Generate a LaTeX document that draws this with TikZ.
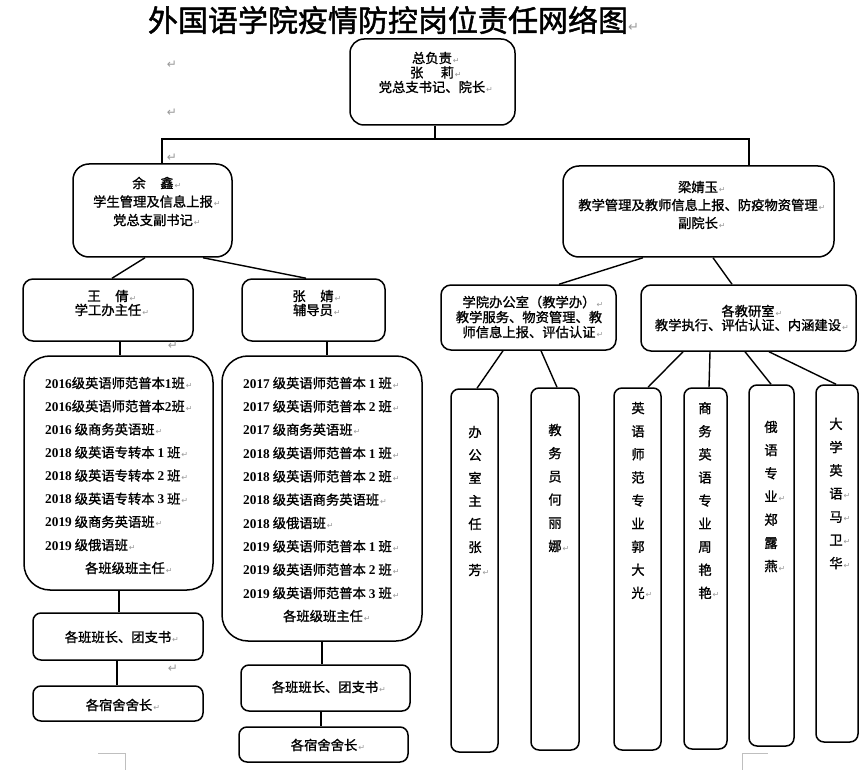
\documentclass[tikz,border=0pt]{standalone}
\usepackage{fontspec}
\setmainfont{Noto Sans CJK SC}[FakeBold=1.2]
\newfontfamily\titlefont{Noto Sans CJK SC}[FakeBold=1.5]
\newfontfamily\arrowfont{DejaVu Sans}
\newfontfamily\numfont{Liberation Serif}
\usetikzlibrary{calc}
\newcommand\rt{\rlap{\kern1pt\textcolor{black!40}{\arrowfont\fontsize{8}{8}\selectfont ↵}}}
\newcommand\nm[1]{{\numfont\bfseries #1}}
\newcommand\wsp{\hspace{1.1em}}
\begin{document}
\begin{tikzpicture}[x=1pt,y=-1pt,
  box/.style={draw, line width=1.5pt, rounded corners=#1, inner sep=0pt},
  box/.default=9pt,
  conn/.style={line width=1.4pt},
  txt/.style={inner sep=0pt, align=center, font=\fontsize{13.3}{#1}\selectfont},
  txt/.default=15pt,
  ltxt/.style={inner sep=0pt, align=left, anchor=west, font=\fontsize{13.3}{#1}\selectfont},
  stray/.style={inner sep=0pt, text=black!40, font=\arrowfont\fontsize{12}{12}\selectfont},
  cornermark/.style={draw=black!25, line width=0.8pt}
]
\useasboundingbox (0,0) rectangle (865,770);
\fill[white] (0,0) rectangle (865,770);

% title
\node[inner sep=0pt] (title) at (388,20) {\titlefont\fontsize{30}{30}\selectfont 外国语学院疫情防控岗位责任网络图\rlap{\textcolor{black!40}{\arrowfont\fontsize{13}{13}\selectfont ↵}}};

% boxes
\node[box=14pt, minimum width=165pt, minimum height=86pt] (top) at (432.5,82) {};
\node[box=16pt, minimum width=159pt, minimum height=93pt] (yu) at (152.5,210.5) {};
\node[box=16pt, minimum width=271pt, minimum height=91pt] (lj) at (698.5,211.5) {};
\node[box=10pt, minimum width=170pt, minimum height=62pt] (wq) at (108,310) {};
\node[box=10pt, minimum width=143pt, minimum height=62pt] (zj) at (313.5,310) {};
\node[box=10pt, minimum width=175pt, minimum height=65pt] (office) at (528.5,317.5) {};
\node[box=10pt, minimum width=215pt, minimum height=66pt] (dept) at (748.5,318) {};
\node[box=26pt, minimum width=189pt, minimum height=234pt] (clL) at (118.5,473) {};
\node[box=26pt, minimum width=200pt, minimum height=285pt] (clR) at (322,498.5) {};
\node[box=8pt, minimum width=170pt, minimum height=47pt] (blL) at (118,636.5) {};
\node[box=8pt, minimum width=170pt, minimum height=35pt] (dlL) at (118,703.5) {};
\node[box=8pt, minimum width=169pt, minimum height=46pt] (blR) at (325.5,688) {};
\node[box=8pt, minimum width=169pt, minimum height=35pt] (dlR) at (323.5,744.5) {};
\node[box=8pt, minimum width=47pt, minimum height=363pt] (v1) at (474.5,570.5) {};
\node[box=8pt, minimum width=48pt, minimum height=362pt] (v2) at (555,569) {};
\node[box=8pt, minimum width=47pt, minimum height=362pt] (v3) at (637.5,569) {};
\node[box=8pt, minimum width=43pt, minimum height=361pt] (v4) at (705.5,568.5) {};
\node[box=8pt, minimum width=45pt, minimum height=361pt] (v5) at (771.5,565.5) {};
\node[box=8pt, minimum width=42pt, minimum height=357pt] (v6) at (837,563.5) {};

% texts
\node[txt=14.5pt] (topt) at (432,72.5) {总负责\rt\\张\hspace{1.3em}莉\rt\\党总支书记、院长\rt};
\node[txt=18.5pt] (yut) at (153,201.5) {余\wsp 鑫\rt\\学生管理及信息上报\rt\\党总支副书记\rt};
\node[txt=18pt] (ljt) at (698,205) {梁婧玉\rt\\教学管理及教师信息上报、防疫物资管理\rt\\副院长\rt};
\node[txt=14pt] (wqt) at (108,303) {王\wsp 倩\rt\\学工办主任\rt};
\node[txt=14pt] (zjt) at (313,303) {张\wsp 婧\rt\\辅导员\rt};
\node[txt=15pt] (offt) at (529,317) {学院办公室（教学办）\rt\\教学服务、物资管理、教\\师信息上报、评估认证\rt};
\node[txt=14pt] (deptt) at (748,318) {各教研室\rt\\教学执行、评估认证、内涵建设\rt};

\node[ltxt=23.14pt] (clLt) at (45,464) {\nm{2016}级英语师范普本\nm{1}班\rt\\
\nm{2016}级英语师范普本\nm{2}班\rt\\
\nm{2016} 级商务英语班\rt\\
\nm{2018} 级英语专转本 \nm{1} 班\rt\\
\nm{2018} 级英语专转本 \nm{2} 班\rt\\
\nm{2018} 级英语专转本 \nm{3} 班\rt\\
\nm{2019} 级商务英语班\rt\\
\nm{2019} 级俄语班\rt};
\node[txt] (clLh) at (125,568) {各班级班主任\rt};
\node[ltxt=23.33pt] (clRt) at (243,488) {\nm{2017} 级英语师范普本 \nm{1} 班\rt\\
\nm{2017} 级英语师范普本 \nm{2} 班\rt\\
\nm{2017} 级商务英语班\rt\\
\nm{2018} 级英语师范普本 \nm{1} 班\rt\\
\nm{2018} 级英语师范普本 \nm{2} 班\rt\\
\nm{2018} 级英语商务英语班\rt\\
\nm{2018} 级俄语班\rt\\
\nm{2019} 级英语师范普本 \nm{1} 班\rt\\
\nm{2019} 级英语师范普本 \nm{2} 班\rt\\
\nm{2019} 级英语师范普本 \nm{3} 班\rt};
\node[txt] (clRh) at (323,616) {各班级班主任\rt};

\node[txt] (blLt) at (118,637) {各班班长、团支书\rt};
\node[txt] (dlLt) at (119,705) {各宿舍舍长\rt};
\node[txt] (blRt) at (325,687) {各班班长、团支书\rt};
\node[txt] (dlRt) at (324,745) {各宿舍舍长\rt};

\node[txt=23pt] (v1t) at (475,501) {办\\公\\室\\主\\任\\张\\芳\rt};
\node[txt=23.2pt] (v2t) at (555,488) {教\\务\\员\\何\\丽\\娜\rt};
\node[txt=23.1pt] (v3t) at (638,500.5) {英\\语\\师\\范\\专\\业\\郭\\大\\光\rt};
\node[txt=23.1pt] (v4t) at (705,500.5) {商\\务\\英\\语\\专\\业\\周\\艳\\艳\rt};
\node[txt=23.2pt] (v5t) at (771,496.5) {俄\\语\\专\\业\rt\\郑\\露\\燕\rt};
\node[txt=23.2pt] (v6t) at (836,493.5) {大\\学\\英\\语\rt\\马\rt\\卫\rt\\华\rt};

% stray paragraph marks
\node[stray] (s1) at (172,65) {↵};
\node[stray] (s2) at (172,113) {↵};
\node[stray] (s3) at (172,158) {↵};
\node[stray] (s4) at (173,346) {↵};
\node[stray] (s5) at (173,669) {↵};

% connectors
\coordinate (bus) at (435,139);
\draw[conn] ([xshift=2.5pt]top.south) -- (bus);
\draw[conn] ([xshift=9.5pt]yu.north) |- (bus) -| ([xshift=50.5pt]lj.north);
\draw[conn] ([xshift=-7.5pt]yu.south) -- ([xshift=4pt]wq.north);
\draw[conn] ([xshift=50.5pt]yu.south) -- ([xshift=-7.5pt]zj.north);
\draw[conn] ([xshift=-55.5pt]lj.south) -- ([xshift=30.5pt]office.north);
\draw[conn] ([xshift=14.5pt]lj.south) -- ([xshift=-16.5pt]dept.north);
\draw[conn] ([xshift=12pt]wq.south) -- ([xshift=1.5pt]clL.north);
\draw[conn] ([xshift=13.5pt]zj.south) -- ([xshift=5pt]clR.north);
\draw[conn] ([xshift=0.5pt]clL.south) -- ([xshift=1pt]blL.north);
\draw[conn] ([xshift=-1pt]blL.south) -- ([xshift=-1pt]dlL.north);
\draw[conn] (clR.south) -- ([xshift=-3.5pt]blR.north);
\draw[conn] ([xshift=-4.5pt]blR.south) -- ([xshift=-2.5pt]dlR.north);
\draw[conn] ([xshift=-25.5pt]office.south) -- ([xshift=2.5pt]v1.north);
\draw[conn] ([xshift=12.5pt]office.south) -- ([xshift=2pt]v2.north);
\draw[conn] ([xshift=-65.5pt]dept.south) -- ([xshift=10.5pt]v3.north);
\draw[conn] ([xshift=-38.5pt]dept.south) -- ([xshift=3.5pt]v4.north);
\draw[conn] ([xshift=-3.5pt]dept.south) -- ([xshift=-0.5pt]v5.north);
\draw[conn] ([xshift=20.5pt]dept.south) -- ([xshift=-1pt]v6.north);

% page corner marks
\draw[cornermark] (98,753) -- (125,753) -- (125,770);
\draw[cornermark] (742,770) -- (742,753) -- (768,753);
\end{tikzpicture}
\end{document}
